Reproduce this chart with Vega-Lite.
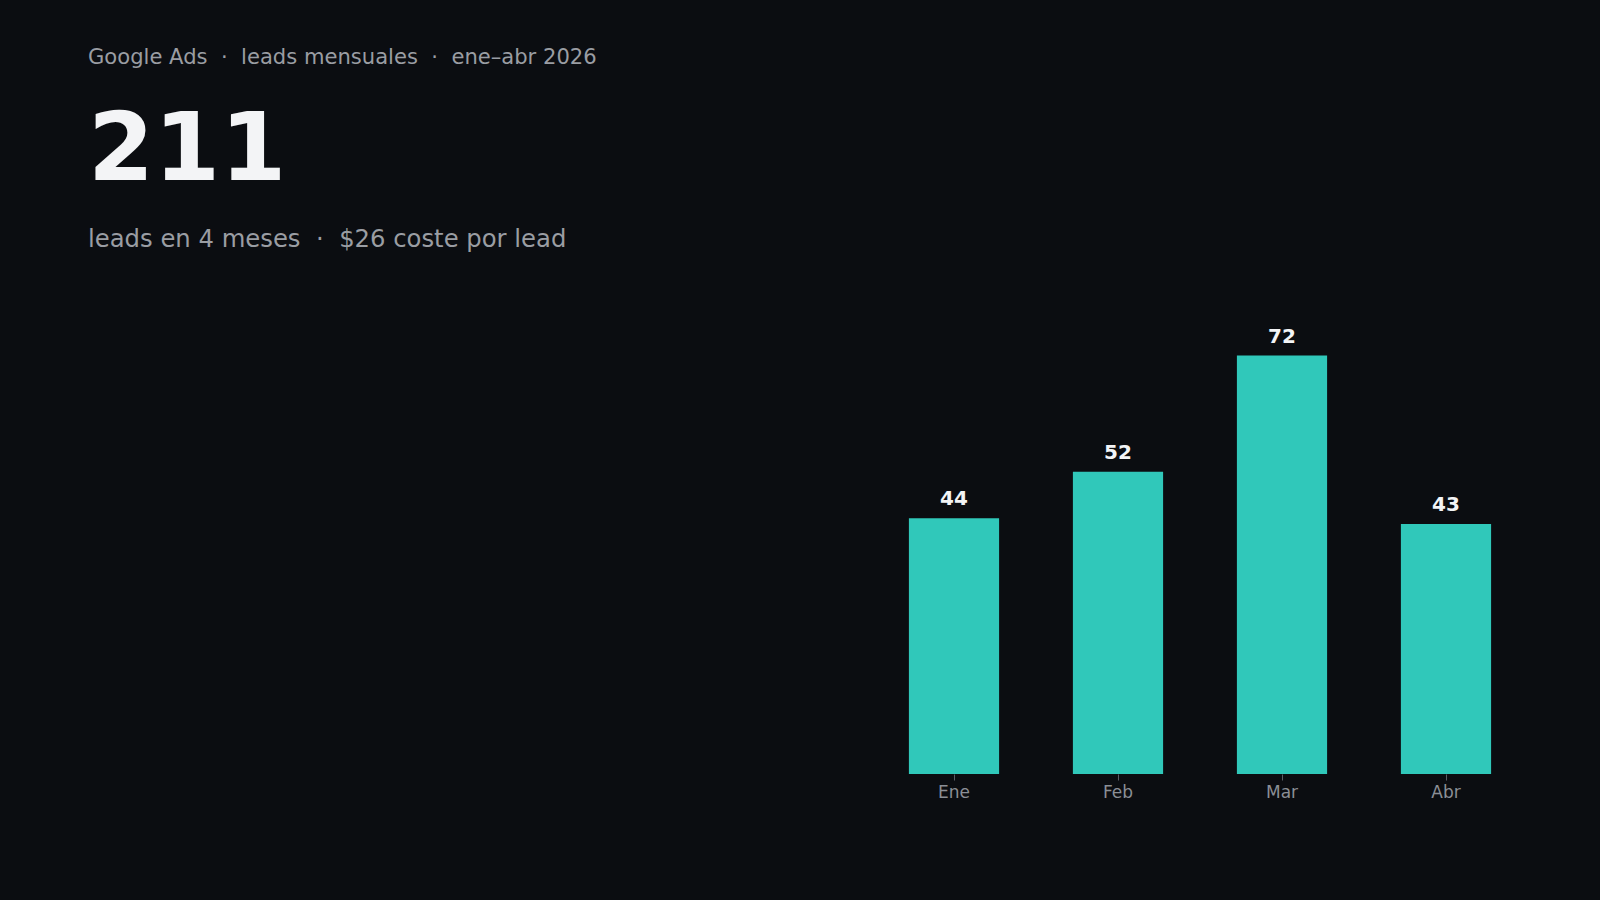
{
  "$schema": "https://vega.github.io/schema/vega-lite/v6.json",
  "background": "#0b0d11",
  "padding": {"left": 88, "top": 46, "right": 72, "bottom": 101},
  "title": {
    "text": "Google Ads\u00a0 ·\u00a0 leads mensuales\u00a0 ·\u00a0 ene–abr 2026",
    "anchor": "start",
    "frame": "group",
    "font": "DejaVu Sans",
    "fontSize": 21.1,
    "fontWeight": "normal",
    "color": "#9a9da3",
    "offset": 36
  },
  "vconcat": [
    {
      "title": {
        "text": "211",
        "subtitle": "leads en 4 meses\u00a0 ·\u00a0 $26 coste por lead",
        "anchor": "start",
        "frame": "group",
        "font": "DejaVu Sans",
        "fontSize": 95,
        "fontWeight": "bold",
        "color": "#f3f4f6",
        "subtitleFont": "DejaVu Sans",
        "subtitleFontSize": 24.3,
        "subtitleColor": "#9a9da3",
        "subtitlePadding": 28,
        "offset": 56
      },
      "width": 1440,
      "height": 465,
      "data": {
        "values": [
          {"mes": "Ene", "leads": 44},
          {"mes": "Feb", "leads": 52},
          {"mes": "Mar", "leads": 72},
          {"mes": "Abr", "leads": 43}
        ]
      },
      "encoding": {
        "x": {
          "field": "mes",
          "type": "nominal",
          "sort": null,
          "scale": {"range": [784, 1440], "paddingInner": 0.45, "paddingOuter": 0.225},
          "axis": {
            "title": null,
            "labelAngle": 0,
            "labelFont": "DejaVu Sans",
            "labelFontSize": 17,
            "labelColor": "#8b8f96",
            "labelPadding": 4,
            "domain": false,
            "ticks": true,
            "tickColor": "#5a5e66",
            "tickSize": 6,
            "grid": false
          }
        },
        "y": {
          "field": "leads",
          "type": "quantitative",
          "scale": {"domain": [0, 80], "nice": false},
          "axis": null
        }
      },
      "layer": [
        {"mark": {"type": "bar", "color": "#30c8ba"}},
        {
          "mark": {
            "type": "text",
            "baseline": "alphabetic",
            "dy": -13,
            "font": "DejaVu Sans",
            "fontSize": 20,
            "fontWeight": "bold",
            "color": "#f3f4f6"
          },
          "encoding": {"text": {"field": "leads", "type": "quantitative"}}
        }
      ]
    }
  ],
  "config": {
    "view": {"stroke": null},
    "concat": {"spacing": 0}
  }
}
